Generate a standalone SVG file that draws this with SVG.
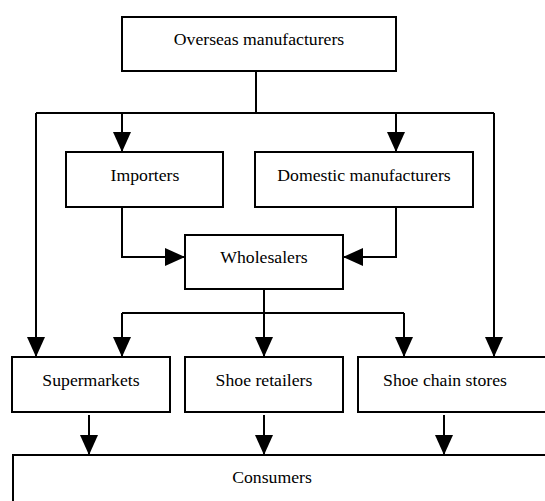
<svg xmlns="http://www.w3.org/2000/svg" width="545" height="501" viewBox="0 0 545 501">
<style>
.box{fill:#fff;stroke:#000;stroke-width:2}
.lbl{font-family:"Liberation Serif","Times New Roman",serif;font-size:17.7px;fill:#000;text-anchor:middle}
.ln{fill:none;stroke:#000;stroke-width:2}
</style>
<defs>
<marker id="ah" markerUnits="userSpaceOnUse" markerWidth="20" markerHeight="18" viewBox="0 0 20 18" refX="20" refY="9" orient="auto">
<path d="M0,0 L20,9 L0,18 Z" fill="#000"/>
</marker>
</defs>
<rect width="545" height="501" fill="#fff"/>
<g id="connectors">
<path class="ln" d="M256,71 V113"/>
<path class="ln" d="M36,113 H494"/>
<path class="ln" d="M122,113 V152" marker-end="url(#ah)"/>
<path class="ln" d="M396,113 V152" marker-end="url(#ah)"/>
<path class="ln" d="M36,113 V357" marker-end="url(#ah)"/>
<path class="ln" d="M494,113 V357" marker-end="url(#ah)"/>
<path class="ln" d="M122,207 V257 H185" marker-end="url(#ah)"/>
<path class="ln" d="M396,207 V257 H343" marker-end="url(#ah)"/>
<path class="ln" d="M264,289 V313"/>
<path class="ln" d="M122,313 H404"/>
<path class="ln" d="M122,313 V357" marker-end="url(#ah)"/>
<path class="ln" d="M264,313 V357" marker-end="url(#ah)"/>
<path class="ln" d="M404,313 V357" marker-end="url(#ah)"/>
<path class="ln" d="M89,415 V455" marker-end="url(#ah)"/>
<path class="ln" d="M264,415 V455" marker-end="url(#ah)"/>
<path class="ln" d="M444,415 V455" marker-end="url(#ah)"/>
</g>
<g id="overseas"><rect class="box" x="122" y="17" width="274" height="54"/><text class="lbl" x="259" y="45">Overseas manufacturers</text></g>
<g id="importers"><rect class="box" x="66" y="152" width="157" height="55"/><text class="lbl" x="145" y="181">Importers</text></g>
<g id="domestic"><rect class="box" x="255" y="152" width="218" height="55"/><text class="lbl" x="364" y="181">Domestic manufacturers</text></g>
<g id="wholesalers"><rect class="box" x="185" y="235" width="158" height="54"/><text class="lbl" x="264" y="263">Wholesalers</text></g>
<g id="supermarkets"><rect class="box" x="12" y="357" width="158" height="55"/><text class="lbl" x="91" y="386">Supermarkets</text></g>
<g id="shoeretailers"><rect class="box" x="185" y="357" width="158" height="55"/><text class="lbl" x="264" y="386">Shoe retailers</text></g>
<g id="shoechain"><rect class="box" x="358" y="357" width="220" height="55"/><text class="lbl" x="445" y="386">Shoe chain stores</text></g>
<g id="consumers"><rect class="box" x="13" y="455" width="560" height="80"/><text class="lbl" x="272" y="483">Consumers</text></g>
</svg>
